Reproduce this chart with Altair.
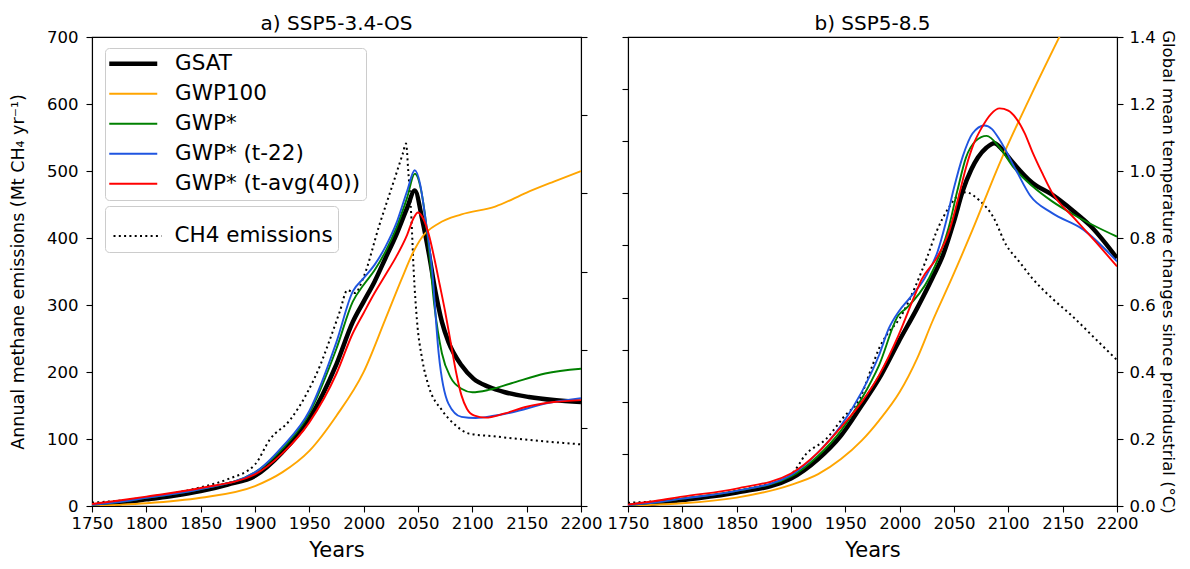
import altair as alt
import pandas as pd

FONT = "DejaVu Sans"

X_TICKS = [1750, 1800, 1850, 1900, 1950, 2000, 2050, 2100, 2150, 2200]
EMIS_TICKS_A = [0, 100, 200, 300, 400, 500, 600, 700]
TEMP_TICKS_A = [0.0, 0.2, 0.4, 0.6, 0.8, 1.0, 1.2]
EMIS_TICKS_B = [0, 100, 200, 300, 400, 500, 600, 700, 800, 900]
TEMP_TICKS_B = [0.0, 0.2, 0.4, 0.6, 0.8, 1.0, 1.2, 1.4]

SERIES = ["GSAT", "GWP100", "GWP*", "GWP* (t-22)", "GWP* (t-avg(40))"]
COLORS = ["#000000", "#FFA500", "#008000", "#1f55e0", "#FF0000"]
CH4_LABEL = "CH4 emissions"

TITLE_A = "a) SSP5-3.4-OS"
TITLE_B = "b) SSP5-8.5"
Y_LEFT_TITLE = "Annual methane emissions (Mt CH\u2084 yr\u207b\u00b9)"
Y_RIGHT_TITLE = "Global mean temperature changes since preindustrial (\u00b0C)"
X_TITLE = "Years"

# ---------------- panel a) SSP5-3.4-OS ----------------
A_CH4_YEARS = [1750, 1775, 1800, 1825, 1850, 1875, 1900, 1914, 1932, 1949, 1960, 1967, 1978, 1985, 1992, 2000, 2014,
               2029, 2036, 2039, 2041, 2044, 2046, 2049, 2054, 2060, 2072, 2085, 2097, 2120, 2137, 2170, 2200]
A_CH4 = [5, 8, 13, 19, 28, 40, 62, 100, 128, 172, 210, 240, 290, 322, 318, 342, 417,
         491, 526, 541, 501, 427, 352, 278, 218, 178, 143, 120, 108, 104, 101, 96, 92]

A_GSAT_YEARS = [1750, 1775, 1800, 1825, 1850, 1875, 1900, 1925, 1950, 1975, 1990, 2000, 2010, 2020, 2030, 2040,
                2047, 2054, 2060, 2066, 2072, 2078, 2090, 2101, 2115, 2130, 2152, 2175, 2200]
A_GSAT = [0.000, 0.007, 0.017, 0.026, 0.038, 0.055, 0.077, 0.137, 0.223, 0.363, 0.471, 0.523, 0.574, 0.634, 0.694,
          0.763, 0.807, 0.732, 0.646, 0.549, 0.471, 0.420, 0.360, 0.326, 0.305, 0.291, 0.279, 0.271, 0.266]

A_GWP100_YEARS = [1750, 1775, 1800, 1850, 1900, 1925, 1950, 1975, 2000, 2020, 2035, 2045, 2054, 2069, 2090, 2121,
                  2150, 2175, 2200]
A_GWP100 = [0.000, 0.003, 0.007, 0.021, 0.051, 0.086, 0.141, 0.231, 0.343, 0.478, 0.581, 0.646, 0.689, 0.723, 0.746,
            0.766, 0.802, 0.830, 0.857]

A_GWPS_YEARS = [1750, 1775, 1800, 1850, 1900, 1925, 1950, 1975, 1990, 2000, 2010, 2020, 2030, 2040, 2047, 2053,
                2059, 2065, 2072, 2080, 2090, 2100, 2115, 2136, 2167, 2200]
A_GWPS = [0.003, 0.010, 0.021, 0.043, 0.086, 0.146, 0.237, 0.403, 0.523, 0.566, 0.603, 0.651, 0.711, 0.789, 0.850,
          0.806, 0.686, 0.514, 0.391, 0.329, 0.300, 0.291, 0.297, 0.314, 0.339, 0.351]

A_T22_YEARS = [1750, 1775, 1800, 1850, 1900, 1925, 1950, 1975, 1990, 2000, 2010, 2020, 2030, 2040, 2047, 2052,
               2057, 2063, 2069, 2078, 2090, 2103, 2120, 2137, 2167, 2200]
A_T22 = [0.003, 0.010, 0.021, 0.043, 0.086, 0.151, 0.243, 0.420, 0.549, 0.583, 0.617, 0.663, 0.723, 0.806, 0.859,
         0.823, 0.732, 0.603, 0.391, 0.262, 0.228, 0.225, 0.231, 0.240, 0.262, 0.276]

A_TAVG_YEARS = [1750, 1775, 1800, 1850, 1900, 1925, 1950, 1975, 1990, 2000, 2010, 2020, 2030, 2040, 2046, 2050,
                2055, 2060, 2065, 2070, 2075, 2080, 2085, 2090, 2095, 2102, 2112, 2130, 2150, 2175, 2200]
A_TAVG = [0.005, 0.014, 0.024, 0.046, 0.081, 0.134, 0.214, 0.339, 0.442, 0.494, 0.545, 0.591, 0.638, 0.694, 0.737,
          0.751, 0.734, 0.694, 0.634, 0.566, 0.497, 0.420, 0.343, 0.283, 0.249, 0.231, 0.226, 0.237, 0.254, 0.266,
          0.271]

# ---------------- panel b) SSP5-8.5 ----------------
B_CH4_YEARS = [1750, 1775, 1800, 1825, 1850, 1875, 1900, 1914, 1932, 1949, 1963, 1975, 1981, 1988, 2000, 2015,
               2025, 2034, 2045, 2055, 2061, 2073, 2086, 2098, 2110, 2122, 2140, 2158, 2180, 2200]
B_CH4 = [6, 9, 13, 19, 29, 40, 60, 100, 128, 172, 205, 270, 302, 328, 360, 424,
         476, 527, 572, 598, 602, 587, 555, 501, 469, 437, 399, 366, 321, 280]

B_GSAT_YEARS = [1750, 1775, 1800, 1850, 1900, 1925, 1946, 1965, 1981, 1999, 2016, 2030, 2040, 2050, 2058, 2066,
                2072, 2080, 2087, 2095, 2103, 2122, 2140, 2160, 2175, 2200]
B_GSAT = [0.000, 0.008, 0.018, 0.040, 0.082, 0.140, 0.210, 0.300, 0.380, 0.490, 0.590, 0.680, 0.750, 0.850, 0.940,
          1.005, 1.040, 1.070, 1.083, 1.062, 1.030, 0.965, 0.930, 0.880, 0.838, 0.740]

B_GWP100_YEARS = [1750, 1775, 1800, 1850, 1900, 1925, 1946, 1965, 1981, 2000, 2016, 2030, 2048, 2067, 2092, 2120, 2150]
B_GWP100 = [0.000, 0.004, 0.008, 0.025, 0.063, 0.095, 0.140, 0.195, 0.255, 0.340, 0.440, 0.550, 0.680, 0.824, 1.023,
            1.220, 1.420]

B_GWPS_YEARS = [1750, 1775, 1800, 1850, 1900, 1925, 1946, 1965, 1981, 1999, 2006, 2027, 2038, 2045, 2053, 2061,
                2070, 2080, 2092, 2105, 2122, 2140, 2161, 2180, 2200]
B_GWPS = [0.003, 0.010, 0.022, 0.045, 0.088, 0.150, 0.225, 0.320, 0.420, 0.570, 0.590, 0.680, 0.760, 0.830, 0.940,
          1.040, 1.090, 1.105, 1.070, 1.010, 0.955, 0.910, 0.868, 0.835, 0.804]

B_T22_YEARS = [1750, 1775, 1800, 1850, 1900, 1925, 1946, 1965, 1981, 1990, 1999, 2009, 2023, 2035, 2042, 2050,
               2058, 2067, 2078, 2085, 2092, 2107, 2120, 2140, 2169, 2200]
B_T22 = [0.003, 0.010, 0.022, 0.045, 0.092, 0.160, 0.240, 0.340, 0.450, 0.530, 0.580, 0.620, 0.680, 0.760, 0.840,
         0.950, 1.043, 1.112, 1.136, 1.125, 1.093, 1.003, 0.927, 0.875, 0.825, 0.730]

B_TAVG_YEARS = [1750, 1775, 1800, 1850, 1900, 1925, 1946, 1965, 1981, 1999, 2013, 2020, 2035, 2046, 2054, 2061,
                2068, 2076, 2084, 2092, 2100, 2107, 2115, 2122, 2131, 2140, 2161, 2180, 2200]
B_TAVG = [0.004, 0.015, 0.028, 0.052, 0.097, 0.160, 0.235, 0.310, 0.390, 0.510, 0.622, 0.675, 0.745, 0.824, 0.920,
          1.010, 1.080, 1.132, 1.170, 1.187, 1.180, 1.158, 1.113, 1.058, 0.995, 0.937, 0.858, 0.790, 0.715]


def temp_frame(series_map):
    frames = []
    for name in SERIES:
        yrs, vals = series_map[name]
        frames.append(pd.DataFrame({"year": yrs, "temp": vals, "metric": name}))
    return pd.concat(frames, ignore_index=True)


def ch4_frame(yrs, vals):
    return pd.DataFrame({"year": yrs, "emis": vals, "source": CH4_LABEL})


def x_enc():
    return alt.X("year:Q",
                 scale=alt.Scale(domain=[1750, 2200], nice=False, zero=False),
                 axis=alt.Axis(values=X_TICKS, format="d", title=X_TITLE, titleFontSize=21,
                               titlePadding=8, labelPadding=3, labelFlush=False))


LEGEND_BOX = dict(fillColor="rgba(255,255,255,0.8)", strokeColor="#cccccc", cornerRadius=4,
                  labelFont=FONT, labelFontSize=21.5, labelColor="black", labelLimit=400,
                  symbolType="stroke", padding=5, symbolSize=2304,
                  orient="none", direction="vertical", title=None)

color_legend = alt.Legend(legendX=13, legendY=11, rowPadding=7, symbolOffset=12.5, labelOffset=31,
                          symbolStrokeWidth=alt.ExprRef(expr="datum.value === 'GSAT' ? 4.5 : 2"),
                          **LEGEND_BOX)
dash_legend = alt.Legend(legendX=13, legendY=169, symbolOffset=2.5, labelOffset=12,
                         symbolStrokeWidth=2, symbolStrokeColor="black", **LEGEND_BOX)


def panel(title, ch4, temps, emis_domain, emis_axis, temp_domain, temp_axis, show_legend, title_dy):
    dash_kw = {"legend": dash_legend} if show_legend else {"legend": None}
    color_kw = {"legend": color_legend} if show_legend else {"legend": None}
    emis_layer = alt.Chart(ch4).mark_line(color="black", strokeWidth=2, strokeCap="butt",
                                          interpolate="monotone", clip=True).encode(
        x=x_enc(),
        y=alt.Y("emis:Q", scale=alt.Scale(domain=emis_domain, nice=False), axis=emis_axis),
        strokeDash=alt.StrokeDash("source:N", scale=alt.Scale(domain=[CH4_LABEL], range=[[2, 3.3]]), **dash_kw),
    )
    y_t = alt.Y("temp:Q", scale=alt.Scale(domain=temp_domain, nice=False), axis=temp_axis)
    color = alt.Color("metric:N", scale=alt.Scale(domain=SERIES, range=COLORS), **color_kw)
    gsat = alt.Chart(temps[temps.metric == "GSAT"]).mark_line(
        strokeWidth=4.5, interpolate="monotone", clip=True).encode(x=x_enc(), y=y_t, color=color)
    others = alt.Chart(temps[temps.metric != "GSAT"]).mark_line(
        strokeWidth=1.9, interpolate="monotone", clip=True).encode(x=x_enc(), y=y_t, color=color)
    temp_layer = alt.layer(gsat, others)
    return alt.layer(emis_layer, temp_layer).resolve_scale(y="independent").properties(
        width=489, height=469, title=alt.TitleParams(title, dy=title_dy))


temps_a = temp_frame({
    "GSAT": (A_GSAT_YEARS, A_GSAT),
    "GWP100": (A_GWP100_YEARS, A_GWP100),
    "GWP*": (A_GWPS_YEARS, A_GWPS),
    "GWP* (t-22)": (A_T22_YEARS, A_T22),
    "GWP* (t-avg(40))": (A_TAVG_YEARS, A_TAVG),
})
temps_b = temp_frame({
    "GSAT": (B_GSAT_YEARS, B_GSAT),
    "GWP100": (B_GWP100_YEARS, B_GWP100),
    "GWP*": (B_GWPS_YEARS, B_GWPS),
    "GWP* (t-22)": (B_T22_YEARS, B_T22),
    "GWP* (t-avg(40))": (B_TAVG_YEARS, B_TAVG),
})

panel_a = panel(
    TITLE_A, ch4_frame(A_CH4_YEARS, A_CH4), temps_a,
    [0, 700], alt.Axis(orient="left", values=EMIS_TICKS_A, title=Y_LEFT_TITLE, titleFontSize=17.5,
                       titlePadding=19, labelPadding=8),
    [0, 1.2], alt.Axis(orient="right", values=TEMP_TICKS_A, labels=False, title=None),
    True, 12)

panel_b = panel(
    TITLE_B, ch4_frame(B_CH4_YEARS, B_CH4), temps_b,
    [0, 900], alt.Axis(orient="left", values=EMIS_TICKS_B, labels=False, title=None),
    [0, 1.4], alt.Axis(orient="right", values=TEMP_TICKS_B, format=".1f", title=Y_RIGHT_TITLE,
                       titleFontSize=16.5, titlePadding=4, labelPadding=6),
    False, 12)

chart = alt.hconcat(panel_a, panel_b, spacing=47, bounds="flush").resolve_scale(
    color="independent", strokeDash="independent"
).resolve_legend(
    color="independent", strokeDash="independent"
).properties(
    padding={"left": 0, "top": 5, "right": 4, "bottom": 0}
).configure_view(
    stroke="black", strokeWidth=1.1
).configure_axis(
    grid=False, domainColor="black", tickColor="black", labelColor="black", titleColor="black",
    labelFont=FONT, titleFont=FONT, labelFontSize=16.5, tickSize=6, domainWidth=1.1, tickWidth=1.1,
    titleFontWeight="normal"
).configure_title(
    font=FONT, fontSize=20, fontWeight="normal", color="black", offset=7, frame="group", anchor="middle"
)

chart.save("out.html", embed_options={"renderer": "svg", "actions": False})
